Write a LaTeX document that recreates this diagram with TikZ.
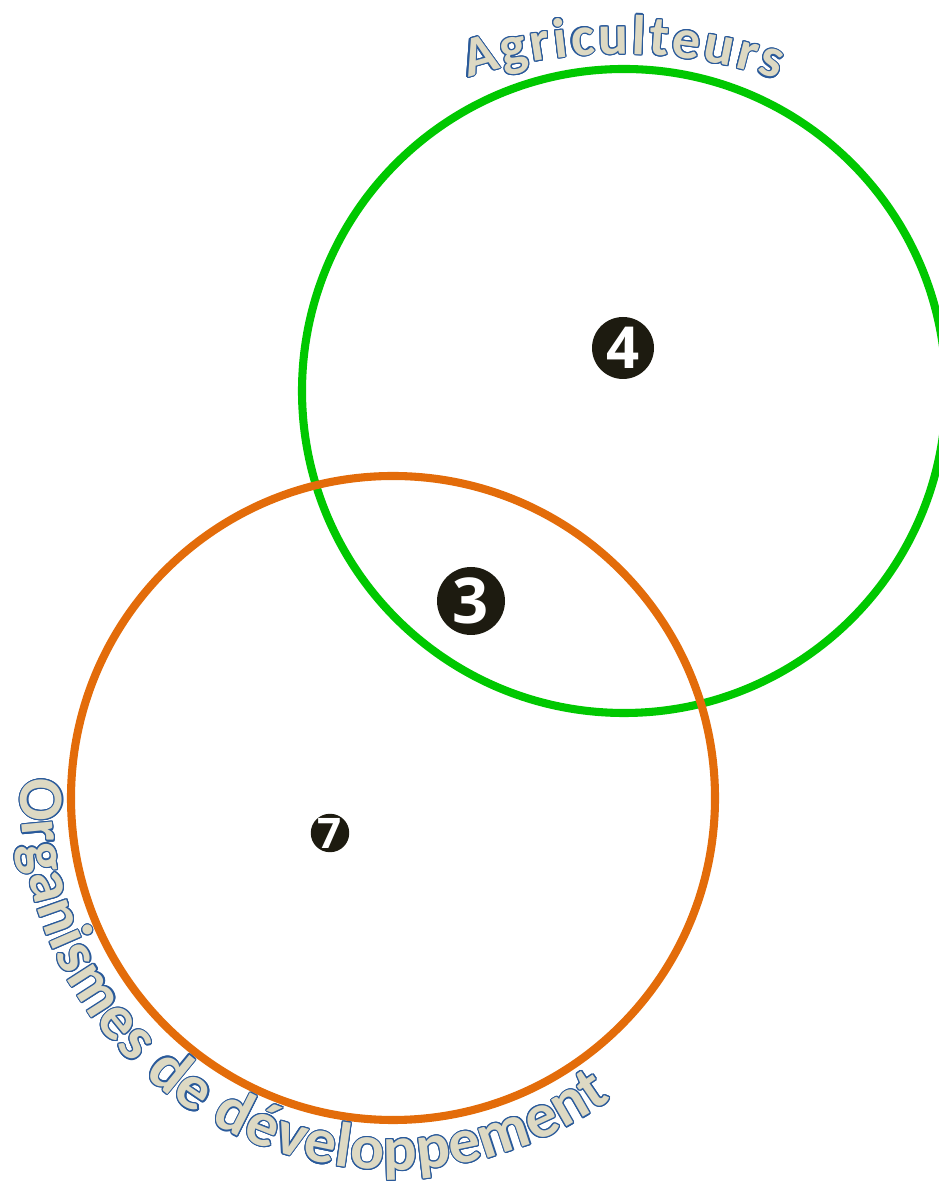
\documentclass[tikz,border=0pt]{standalone}
\usepackage{fontspec}
\setmainfont{Carlito}
\newfontfamily\badgefont{Open Sans}
\usetikzlibrary{decorations.text}
\definecolor{Leaf}{HTML}{00C800}
\definecolor{Rust}{HTML}{E36C0A}
\definecolor{Ink}{HTML}{1D1B10}
\definecolor{Sand}{HTML}{DDD9C3}
\definecolor{Edge}{HTML}{2A5A9A}
\newcommand\agrifont{\fontsize{32}{32}\selectfont\bfseries}
\newcommand\orgfont{\fontsize{36}{36}\selectfont\bfseries}
% outlined text along a path: blue copies round about, sand on top
\newcommand\archlabel[3]{%
  \foreach \a in {0,22.5,...,337.5}{\path[shift={(\a:.65pt)},decorate,decoration={text along path,text align=fit to path,text color=Edge,text={|#1|#3}}] #2;}
  \path[decorate,decoration={text along path,text align=fit to path,text color=Sand,text={|#1|#3}}] #2;}
\tikzset{ring/.style={line width=4.6pt},badge/.style={circle,fill=Ink,text=white,inner sep=0pt,font=\badgefont\bfseries}}

\begin{document}
\begin{tikzpicture}[x=.02cm,y=.02cm]
  \useasboundingbox (0,0) rectangle (938,1182);
  \coordinate (agri) at (624,791);
  \coordinate (org) at (393,384);
  \draw[ring,Leaf] (agri) circle[radius=322];
  \draw[ring,Rust] (org) circle[radius=322];
  \node[badge,minimum size=1.24cm,font=\badgefont\bfseries\fontsize{33}{33}\selectfont] (n4) at (623,834) {4};
  \node[badge,minimum size=1.36cm,font=\badgefont\bfseries\fontsize{36}{36}\selectfont] (n3) at (471,581) {3};
  \node[badge,minimum size=.76cm,font=\badgefont\bfseries\fontsize{24}{24}\selectfont] (n7) at (330,349) {7};
  \archlabel{\agrifont}{([shift={(107.8:497)}]620,631) arc[start angle=107.8,end angle=71.5,radius=497]}{Agriculteurs}
  \archlabel{\orgfont}{([shift={(177:372)}]393,384) arc[start angle=177,end angle=306,radius=372]}{Organismes de développement}
\end{tikzpicture}
\end{document}
